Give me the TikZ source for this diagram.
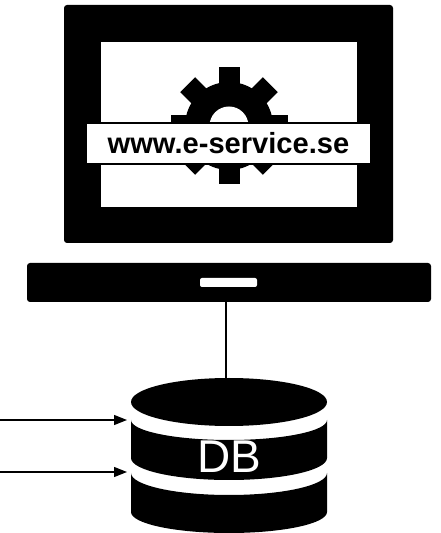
\documentclass[tikz,border=0pt]{standalone}
\usepackage{fontspec}
\setmainfont{Liberation Sans}
\usetikzlibrary{arrows.meta,shapes.geometric}
\tikzset{
  solidbox/.style={fill=black,draw=none,rounded corners=3pt,inner sep=0pt,outer sep=0pt},
  whitebox/.style={fill=white,draw=none,inner sep=0pt,outer sep=0pt},
  link/.style={draw=black,line width=1.4pt},
  inflow/.style={link,-{Triangle[length=13pt,width=10pt]}}
}
\begin{document}
\begin{tikzpicture}[x=1pt,y=1pt]
\useasboundingbox (0,0) rectangle (441,533);
% monitor
\node[solidbox,minimum width=329pt,minimum height=238pt] (monitor) at (228.5,409) {};
\node[whitebox,minimum width=256pt,minimum height=165pt] (screen) at (229,408.5) {};
% gear
\begin{scope}[shift={(229,407)}]
  \fill[black] (0,0) circle[radius=44];
  \foreach \a in {0,45,...,315}
    \fill[black,rotate=\a] (-10.5,36) rectangle (10.5,58.5);
  \fill[white] (0,0) circle[radius=19.5];
\end{scope}
% address band
\node[fill=white,draw=black,line width=2pt,inner sep=0pt,outer sep=0pt,minimum width=285pt,minimum height=41pt,font=\bfseries\fontsize{29.1}{30}\selectfont] (address) at (228.5,389.5) {www.e-service.se};
% stand
\node[solidbox,minimum width=404pt,minimum height=39pt] (stand) at (229,250.5) {};
\node[whitebox,rounded corners=2pt,minimum width=57pt,minimum height=9pt] (slot) at (228.5,250.5) {};
% database
\node[ellipse,fill=black,inner sep=0pt,outer sep=0pt,minimum width=196pt,minimum height=48pt] (dbtop) at (229,131) {};
\fill[black] (131,113) arc[start angle=180,end angle=360,x radius=98,y radius=20]
  -- (327,75) arc[start angle=360,end angle=180,x radius=98,y radius=22] -- cycle;
\fill[black] (131,60) arc[start angle=180,end angle=360,x radius=98,y radius=22]
  -- (327,21) arc[start angle=360,end angle=180,x radius=98,y radius=21] -- cycle;
\node[text=white,inner sep=0pt,font=\fontsize{46}{46}\selectfont] (dblabel) at (229.5,76) {DB};
% connectors
\draw[link] ([xshift=-3pt]stand.south) -- ([xshift=-3pt]dbtop.north);
\coordinate (srcA) at (0,113);
\coordinate (dstA) at (127,113);
\coordinate (srcB) at (0,61);
\coordinate (dstB) at (127,61);
\draw[inflow] (srcA) -- (dstA);
\draw[inflow] (srcB) -- (dstB);
\end{tikzpicture}
\end{document}
